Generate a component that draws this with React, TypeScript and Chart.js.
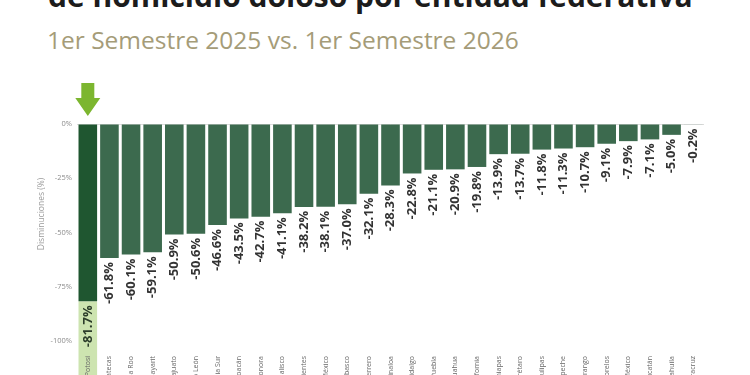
import { useEffect, useRef } from "react";
import { Chart, registerables } from "chart.js";

Chart.register(...registerables);

// Entidades federativas, ordenadas de mayor a menor disminución
const states = [
  "San Luis Potosí",
  "Zacatecas",
  "Quintana Roo",
  "Nayarit",
  "Guanajuato",
  "Nuevo León",
  "Baja California Sur",
  "Michoacán",
  "Sonora",
  "Jalisco",
  "Aguascalientes",
  "Estado de México",
  "Tabasco",
  "Guerrero",
  "Sinaloa",
  "Hidalgo",
  "Puebla",
  "Chihuahua",
  "Baja California",
  "Chiapas",
  "Querétaro",
  "Tamaulipas",
  "Campeche",
  "Durango",
  "Morelos",
  "Ciudad de México",
  "Yucatán",
  "Coahuila",
  "Veracruz",
];

// Variación porcentual (%) 1er semestre 2025 vs. 1er semestre 2026
const declines = [
  -81.7, -61.8, -60.1, -59.1, -50.9, -50.6, -46.6, -43.5, -42.7, -41.1, -38.2,
  -38.1, -37.0, -32.1, -28.3, -22.8, -21.1, -20.9, -19.8, -13.9, -13.7, -11.8,
  -11.3, -10.7, -9.1, -7.9, -7.1, -5.0, -0.2,
];

const yMin = -100;
const yMax = 0;
const yStep = 25;

const title = "de homicidio doloso por entidad federativa";
const subtitle = "1er Semestre 2025 vs. 1er Semestre 2026";
const yAxisTitle = "Disminuciones (%)";

const FONT = '"Open Sans", "DejaVu Sans", sans-serif';
const HIGHLIGHT_INDEX = 0;

// Caja clara bajo la barra destacada, flecha indicadora y título del eje Y
const highlightPlugin = {
  id: "highlight",
  beforeDraw(chart: any) {
    const ctx = chart.ctx;
    const bar = chart.getDatasetMeta(0).data[HIGHLIGHT_INDEX];
    if (!bar) return;
    const { x, y, width } = bar.getProps(["x", "y", "width"], true);
    ctx.save();
    ctx.fillStyle = "#cde4b0";
    ctx.fillRect(x - width / 2, y, width, chart.height - y);

    const top = chart.chartArea.top;
    const tip = top - 8;
    ctx.fillStyle = "#7cb62f";
    ctx.beginPath();
    ctx.moveTo(x - 6.5, tip - 33);
    ctx.lineTo(x + 6.5, tip - 33);
    ctx.lineTo(x + 6.5, tip - 18);
    ctx.lineTo(x + 12.5, tip - 18);
    ctx.lineTo(x, tip);
    ctx.lineTo(x - 12.5, tip - 18);
    ctx.lineTo(x - 6.5, tip - 18);
    ctx.closePath();
    ctx.fill();

    ctx.translate(42, 214);
    ctx.rotate(-Math.PI / 2);
    ctx.fillStyle = "#9a9a9a";
    ctx.font = `8.5px ${FONT}`;
    ctx.textAlign = "center";
    ctx.textBaseline = "middle";
    ctx.fillText(yAxisTitle, 0, 0);
    ctx.restore();
  },
};

// Etiquetas de valor verticales bajo el extremo de cada barra
const valueLabelPlugin = {
  id: "valueLabels",
  afterDatasetsDraw(chart: any) {
    const ctx = chart.ctx;
    const meta = chart.getDatasetMeta(0);
    const values = chart.data.datasets[0].data as number[];
    ctx.save();
    ctx.font = `bold 13px ${FONT}`;
    ctx.textAlign = "right";
    ctx.textBaseline = "middle";
    meta.data.forEach((bar: any, i: number) => {
      const { x, y } = bar.getProps(["x", "y"], true);
      ctx.save();
      ctx.translate(x, y + 4);
      ctx.rotate(-Math.PI / 2);
      ctx.fillStyle = i === HIGHLIGHT_INDEX ? "#2c3d2a" : "#333333";
      ctx.fillText(`${values[i].toFixed(1)}%`, 0, 0);
      ctx.restore();
    });
    ctx.restore();
  },
};

function DeclineChart() {
  const canvasRef = useRef<HTMLCanvasElement | null>(null);

  useEffect(() => {
    const canvas = canvasRef.current;
    if (!canvas) return;
    const chart = new Chart(canvas, {
      type: "bar",
      data: {
        labels: states,
        datasets: [
          {
            data: declines,
            backgroundColor: declines.map((_, i) =>
              i === HIGHLIGHT_INDEX ? "#1f5630" : "#3c6a4e"
            ),
            borderWidth: 0,
            barPercentage: 0.86,
            categoryPercentage: 1,
          },
        ],
      },
      options: {
        responsive: false,
        animation: false,
        devicePixelRatio: 1,
        layout: { padding: { top: 124, right: 46, left: 30, bottom: 0 } },
        plugins: {
          legend: { display: false },
          tooltip: { enabled: false },
          title: { display: false },
        },
        scales: {
          x: {
            grid: { display: false },
            border: { display: false },
            ticks: {
              autoSkip: false,
              minRotation: 90,
              maxRotation: 90,
              padding: 7,
              color: "#666666",
              font: { family: FONT, size: 7 },
            },
            afterFit(scale: any) {
              scale.height = 100;
            },
          },
          y: {
            min: yMin,
            max: yMax,
            ticks: {
              stepSize: yStep,
              padding: 5,
              color: "#8c8c8c",
              font: { family: FONT, size: 7.5 },
              callback: (v: any) => `${v}%`,
            },
            grid: {
              drawTicks: false,
              color: (c: any) =>
                c.tick && c.tick.value === 0 ? "#dcdcdc" : "rgba(0,0,0,0)",
            },
            border: { display: false },
            afterFit(scale: any) {
              scale.width = 47;
            },
          },
        },
      },
      plugins: [highlightPlugin, valueLabelPlugin],
    });
    return () => chart.destroy();
  }, []);

  return <canvas ref={canvasRef} width={750} height={441} />;
}

export default function App() {
  return (
    <div
      style={{
        position: "fixed",
        left: 0,
        top: 0,
        width: 750,
        height: 375,
        overflow: "hidden",
        background: "#ffffff",
        fontFamily: FONT,
      }}
    >
      <div
        style={{
          position: "absolute",
          left: 48,
          top: -19,
          fontSize: 30,
          lineHeight: "30px",
          fontWeight: 700,
          color: "#1c1c1c",
          whiteSpace: "nowrap",
        }}
      >
        {title}
      </div>
      <div
        style={{
          position: "absolute",
          left: 47,
          top: 27,
          fontSize: 24.5,
          lineHeight: "26px",
          fontWeight: 400,
          color: "#a59c78",
          whiteSpace: "nowrap",
        }}
      >
        {subtitle}
      </div>
      <div style={{ position: "absolute", left: 0, top: 0 }}>
        <DeclineChart />
      </div>
    </div>
  );
}
